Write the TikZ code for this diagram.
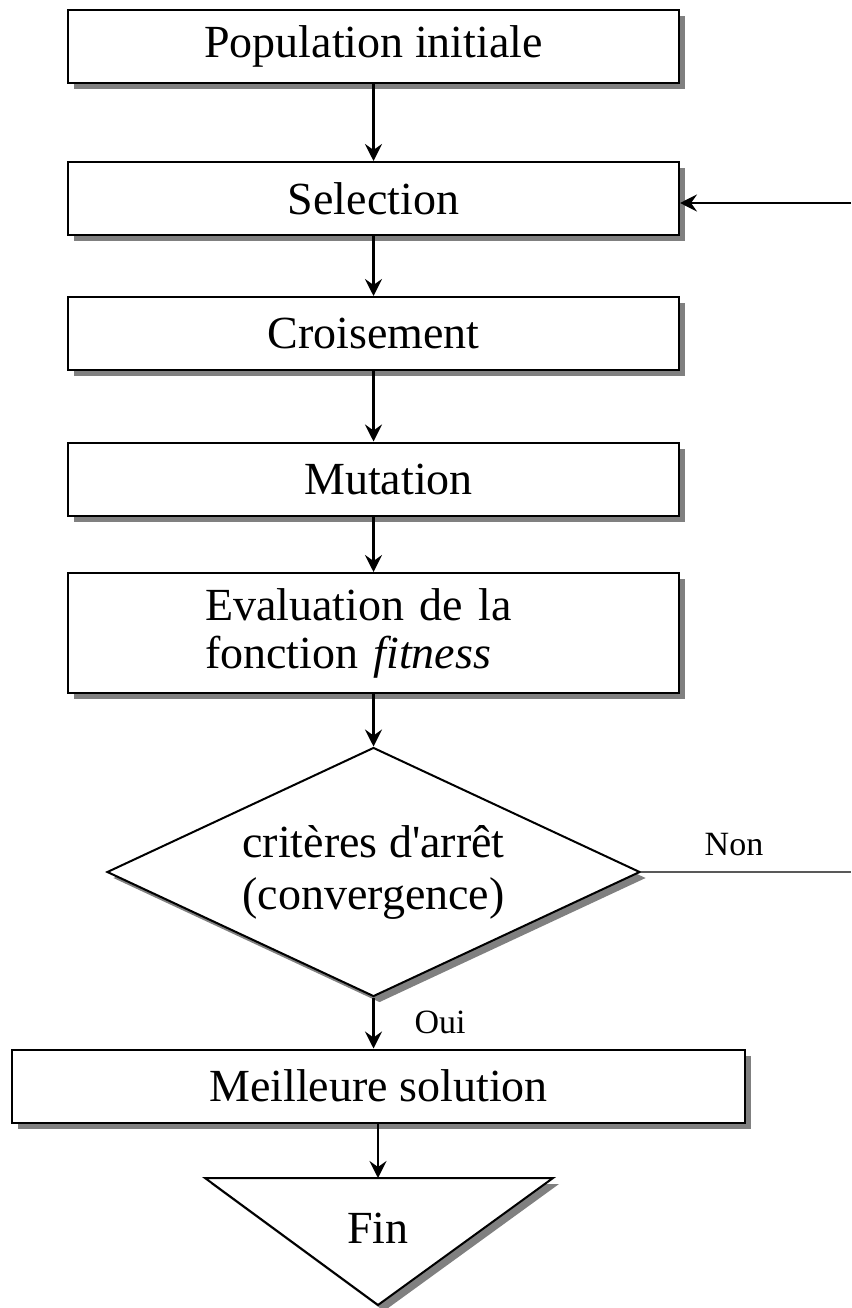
\documentclass[tikz,border=0pt]{standalone}
\usepackage{fontspec}
\setmainfont{Liberation Serif}
\newfontfamily\seriflisse{Liberation Serif}
\usetikzlibrary{shapes.geometric,shadows,arrows.meta}
\definecolor{ombre}{gray}{0.5}
\definecolor{trait}{gray}{0.35}

\begin{document}
\begin{tikzpicture}[x=1pt,y=-1pt,
	etape/.style={draw,line width=2pt,fill=white,minimum width=611pt,minimum height=73pt,inner sep=0pt,
		font=\fontsize{46}{48}\selectfont,
		drop shadow={shadow xshift=6pt,shadow yshift=-6pt,fill=ombre,opacity=1}},
	fleche/.style={line width=2.5pt,-{Stealth[length=17pt,width=17pt,inset=6pt]}},
	reponse/.style={font=\fontsize{34}{40}\selectfont}]
		\useasboundingbox (0,0) rectangle (851,1308);
		
		% les etapes de l'algorithme
		\node[etape] (pop) at (373.5,46.5) {Population initiale};
		\node[etape] (sel) at (373.5,198.5) {Selection};
		\node[etape] (crois) at (373.5,333.5) {Croisement};
		\node[etape] (mut) at (373.5,479) {\hspace*{30pt}Mutation};
		\node[etape,minimum height=120pt,text width=337pt,align=left] (eval) at (373.5,633) {Evaluation de la\\fonction \textit{fitness}};
		\node[etape,diamond,minimum width=533pt,minimum height=249pt,aspect=2.14,align=center,font=\fontsize{46}{52}\selectfont] (crit) at (373.5,872) {critères d{\seriflisse'}arrêt\\(convergence)};
		\node[etape,minimum width=733pt] (best) at (378.5,1086) {Meilleure solution};
		
		% triangle de fin
		\draw[line width=2pt,fill=white,drop shadow={shadow xshift=6pt,shadow yshift=-6pt,fill=ombre,opacity=1}] (205,1178) -- (553,1178) -- (378,1305) -- cycle;
		\coordinate (fintop) at (378,1178);
		\node[font=\fontsize{46}{48}\selectfont] (fin) at (378,1228) {Fin};
		
		\node[reponse] (oui) at (440,1022) {Oui};
		\node[reponse] (non) at (734,845) {Non};
		\coordinate (bordnon) at (851,872);
		\coordinate (bordsel) at (851,203);
		
		% fleches
		\draw[fleche] (pop) -- (sel);
		\draw[fleche] (sel) -- (crois);
		\draw[fleche] (crois) -- (mut);
		\draw[fleche] (mut) -- (eval);
		\draw[fleche] (eval) -- (crit);
		\draw[fleche] (crit.south) -- (crit.south |- best.north);
		\draw[fleche] (best.south -| fintop) -- (fintop);
		\draw[line width=2pt,trait] (crit.east) -- (bordnon);
		\draw[fleche] (bordsel) -- (sel.east |- bordsel);
	\end{tikzpicture}
\end{document}
